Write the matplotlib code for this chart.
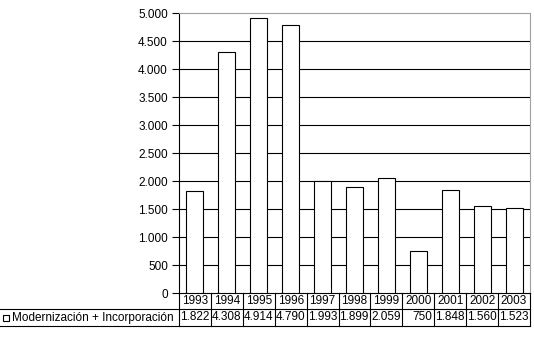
import matplotlib
matplotlib.use("Agg")
import matplotlib.pyplot as plt
from matplotlib.patches import Rectangle

years = ["1993", "1994", "1995", "1996", "1997", "1998", "1999", "2000", "2001", "2002", "2003"]
values = [1822, 4308, 4914, 4790, 1993, 1899, 2059, 750, 1848, 1560, 1523]
value_labels = ["1.822", "4.308", "4.914", "4.790", "1.993", "1.899", "2.059", "750", "1.848", "1.560", "1.523"]
series_name = "Modernización + Incorporación"
yticks = list(range(0, 5001, 500))

plt.rcParams["font.family"] = ["Liberation Sans", "DejaVu Sans"]
FS = 8.5

W, H = 534, 343
fig = plt.figure(figsize=(W / 100, H / 100), dpi=100)
x0, x1, ytop, ybot = 179, 530, 13, 293
ax = fig.add_axes([x0 / W, (H - ybot) / H, (x1 - x0) / W, (ybot - ytop) / H])

xs = range(len(years))
ax.bar(xs, values, width=0.53, color="white", edgecolor="black", linewidth=0.8, zorder=3)
ax.set_xlim(-0.5, len(years) - 0.5)
ax.set_ylim(0, 5000)
ax.set_yticks(yticks)
ax.set_yticklabels([f"{v:,}".replace(",", ".") for v in yticks], fontsize=FS)
ax.tick_params(axis="y", length=5, width=0.8, pad=3, direction="out")
ax.set_xticks([])
for v in yticks[1:-1]:
    ax.axhline(v, color="black", lw=0.8, zorder=1)
ax.spines["left"].set_color("black")
ax.spines["bottom"].set_color("black")
ax.spines["top"].set_color("#a0a0a0")
ax.spines["right"].set_color("#a0a0a0")
for s in ax.spines.values():
    s.set_linewidth(0.8)

# data table under the plot
trans = ax.get_xaxis_transform()
axh = ybot - ytop
r1 = -16 / axh
r2 = -33 / axh
left_edge = -x0 / (x1 - x0)
for k in range(len(years) + 1):
    ax.plot([k - 0.5, k - 0.5], [0, r2], color="black", lw=0.8, transform=trans, clip_on=False)
for yy in (r1, r2):
    ax.plot([left_edge, 1], [yy, yy], color="black", lw=0.8, transform=ax.transAxes, clip_on=False)
for i, (yr, lab) in enumerate(zip(years, value_labels)):
    ax.text(i, r1 / 2, yr, ha="center", va="center", fontsize=FS, transform=trans, clip_on=False)
    ax.text(i + 0.45, (r1 + r2) / 2, lab, ha="right", va="center", fontsize=FS,
            transform=trans, clip_on=False)

key_x = left_edge + 3 / (x1 - x0)
ax.add_patch(Rectangle((key_x, (r1 + r2) / 2 - 3 / axh), 6 / (x1 - x0), 6 / axh,
                       transform=ax.transAxes, facecolor="white", edgecolor="black",
                       lw=0.8, clip_on=False))
ax.text(left_edge + 12 / (x1 - x0), (r1 + r2) / 2, series_name, ha="left", va="center",
        fontsize=FS, transform=ax.transAxes, clip_on=False)

fig.savefig("out.png", dpi=100)
